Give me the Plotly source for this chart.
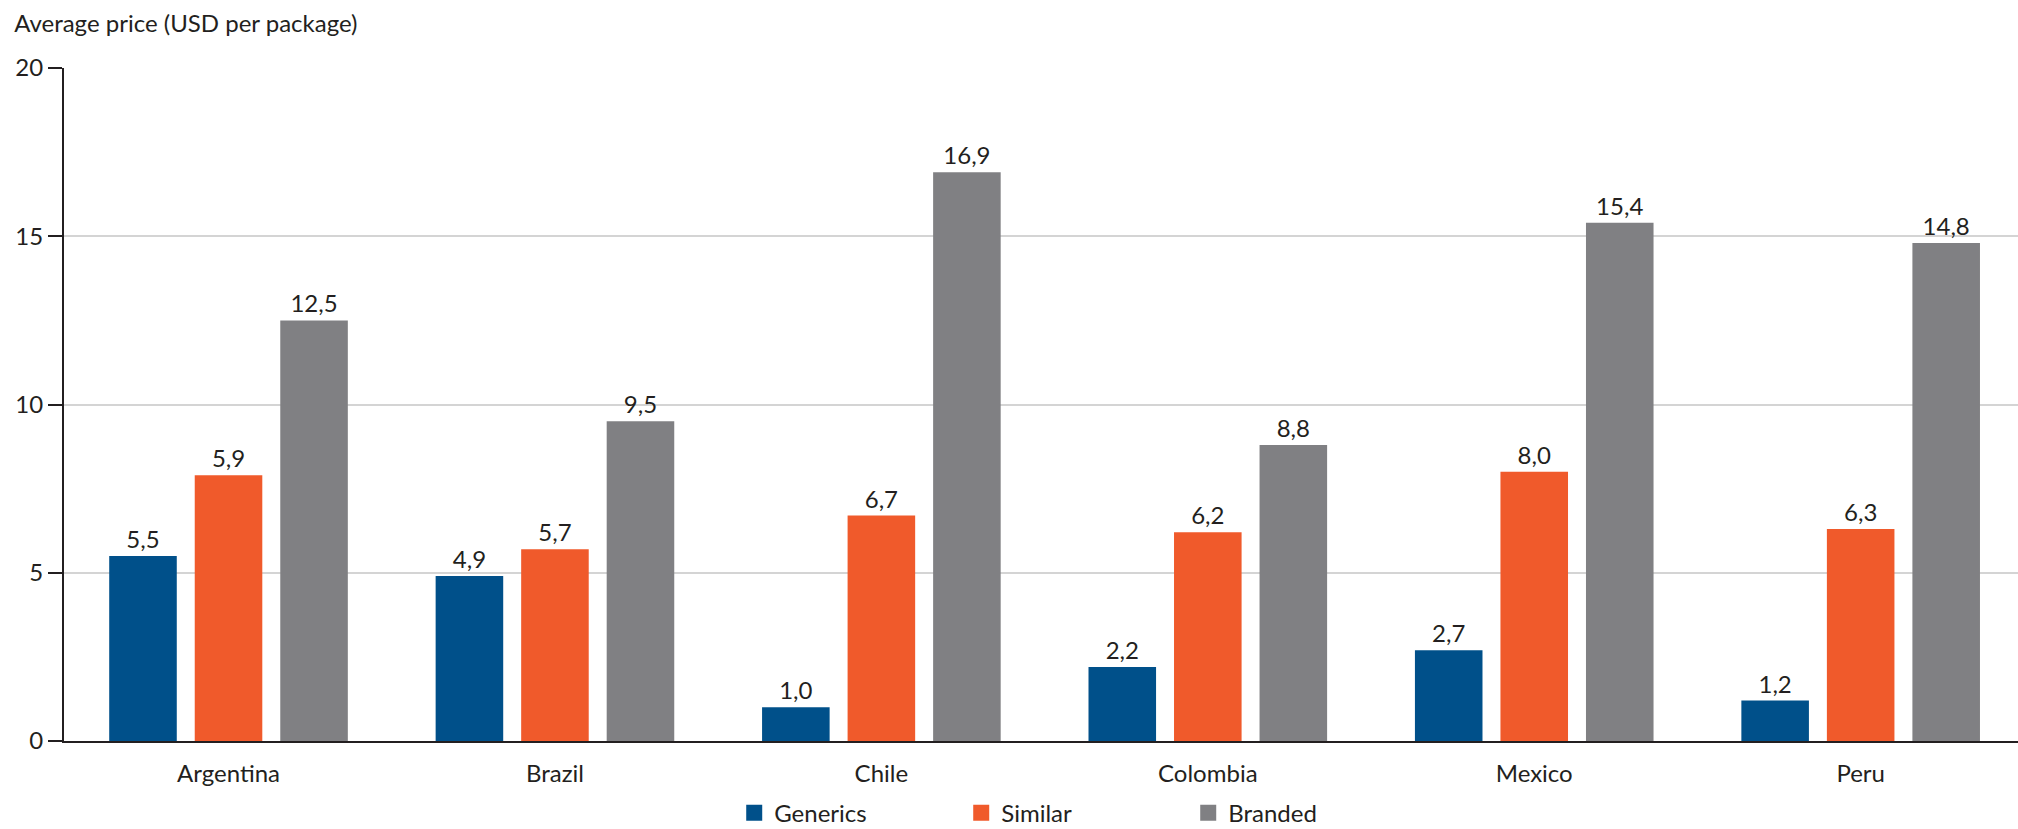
import plotly.graph_objects as go

countries = ["Argentina", "Brazil", "Chile", "Colombia", "Mexico", "Peru"]
generics = [5.5, 4.9, 1.0, 2.2, 2.7, 1.2]
similar = [7.9, 5.7, 6.7, 6.2, 8.0, 6.3]
branded = [12.5, 9.5, 16.9, 8.8, 15.4, 14.8]
generics_labels = ["5,5", "4,9", "1,0", "2,2", "2,7", "1,2"]
similar_labels = ["5,9", "5,7", "6,7", "6,2", "8,0", "6,3"]
branded_labels = ["12,5", "9,5", "16,9", "8,8", "15,4", "14,8"]
series_names = ["Generics", "Similar", "Branded"]
y_ticks = [0, 5, 10, 15, 20]

colors = ["#00508a", "#f05a2b", "#808083"]
FONT = "Lato, Roboto, sans-serif"
TXT = "#231f20"

fig = go.Figure()
for name, vals, labs, col in zip(series_names, [generics, similar, branded],
                                 [generics_labels, similar_labels, branded_labels], colors):
    fig.add_trace(go.Bar(
        x=countries, y=vals, name=name, marker=dict(color=col, line=dict(width=0)),
        text=labs, textposition="outside", textfont=dict(size=24, color=TXT, family=FONT),
        cliponaxis=False, showlegend=False, hoverinfo="x+y"))
    fig.add_trace(go.Scatter(
        x=[None], y=[None], mode="markers", name=name,
        marker=dict(symbol="square", size=22, color=col), showlegend=True))

fig.update_layout(
    width=2018, height=829,
    margin=dict(l=64, r=0, t=68, b=88, autoexpand=False),
    paper_bgcolor="white", plot_bgcolor="white",
    font=dict(family=FONT, color=TXT, size=24),
    barmode="group", bargap=0.214, bargroupgap=0.21,
    title=dict(text="Average price (USD per package)", xref="container", yref="container",
               x=0.007, y=0.972, xanchor="left", yanchor="middle",
               font=dict(size=24, family=FONT, color=TXT)),
    legend=dict(orientation="h", xanchor="left", x=0.343, yref="container",
                yanchor="middle", y=0.019,
                font=dict(size=24, family=FONT, color=TXT), entrywidth=182, itemwidth=30,
                bgcolor="rgba(0,0,0,0)"),
)
fig.update_xaxes(range=[-0.504, 5.482], showline=True, linecolor=TXT, linewidth=2,
                 ticks="", showgrid=False, tickfont=dict(size=24, family=FONT, color=TXT),
                 zeroline=False, ticklabelstandoff=10, automargin=False)
fig.update_yaxes(range=[0, 20], tickvals=y_ticks, showline=True, linecolor=TXT, linewidth=2,
                 ticks="outside", ticklen=14, tickcolor=TXT, tickwidth=2,
                 showgrid=True, gridcolor="#d4d4d4", gridwidth=1.5, zeroline=False,
                 tickfont=dict(size=24, family=FONT, color=TXT), automargin=False)

fig.write_html("out.html")
